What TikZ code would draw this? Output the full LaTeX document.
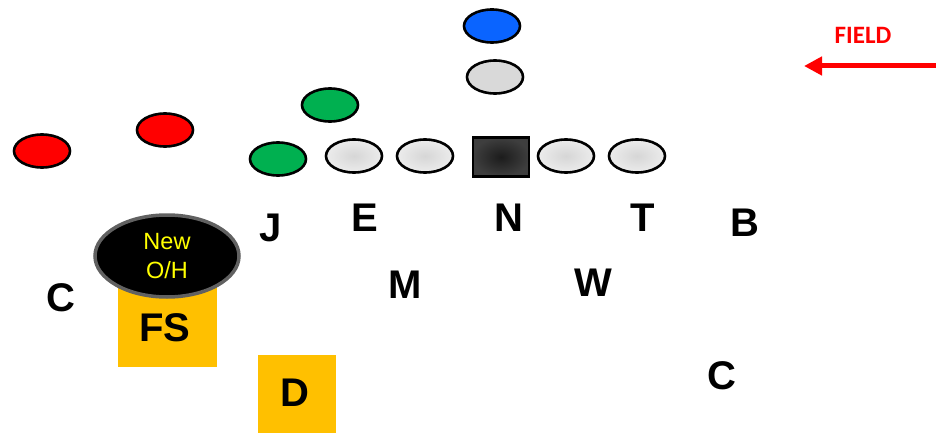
\documentclass[tikz,border=0pt]{standalone}
\usepackage{fontspec}
\setmainfont{Liberation Sans}
\newfontfamily\fieldfont{Carlito}
\usetikzlibrary{shapes.geometric,arrows.meta}
\definecolor{dred}{HTML}{FF0000}
\definecolor{dgreen}{HTML}{00B050}
\definecolor{dblue}{HTML}{0A64FF}
\definecolor{dgold}{HTML}{FFC000}
\definecolor{lgray}{HTML}{D9D9D9}
\definecolor{linein}{HTML}{D6D6D6}
\definecolor{lineout}{HTML}{ECECEC}
\definecolor{ctrin}{HTML}{1C1C1C}
\definecolor{ctrout}{HTML}{3E3E3E}
\definecolor{ohtext}{HTML}{FFFF00}
\begin{document}
\begin{tikzpicture}[x=1pt,y=-1pt,
  oval/.style={ellipse, draw=black, line width=2.6pt, minimum width=56pt, minimum height=33pt, inner sep=0pt},
  lineman/.style={oval, shading=radial, inner color=linein, outer color=lineout},
  poslabel/.style={font=\bfseries\fontsize{40}{40}\selectfont, inner sep=0pt},
  tag/.style={fill=dgold, inner sep=0pt, minimum width=99pt, minimum height=87pt}]
\useasboundingbox (0,0) rectangle (936,433);

% offense
\node[oval, fill=dblue] (qbdeep) at (492,26) {};
\node[oval, fill=lgray] (back) at (495,77) {};
\node[oval, fill=dgreen] (wingup) at (330,105) {};
\node[oval, fill=dgreen] (wing) at (278,159) {};
\node[lineman] (lt) at (354,156) {};
\node[lineman] (lg) at (425,156) {};
\node[draw=black, line width=2.6pt, shading=radial, inner color=ctrin, outer color=ctrout,
      minimum width=56pt, minimum height=39pt, inner sep=0pt] (ctr) at (501,157) {};
\node[lineman] (rg) at (566,156) {};
\node[lineman] (rt) at (637,156) {};
\node[oval, fill=dred] (wrl) at (42,151) {};
\node[oval, fill=dred] (wrs) at (165,130) {};

% defense
\node[poslabel] (J) at (271,228) {J};
\node[poslabel] (E) at (365,218) {E};
\node[poslabel] (N) at (509,218) {N};
\node[poslabel] (T) at (643,218) {T};
\node[poslabel] (B) at (745,223) {B};
\node[poslabel] (M) at (405,285) {M};
\node[poslabel] (W) at (593,283) {W};
\node[poslabel] (CL) at (61,298) {C};
\node[poslabel] (CR) at (722,376) {C};

\node[tag, minimum height=90pt] (fsbox) at (167.5,322) {};
\node[poslabel, anchor=center] (FS) at (165,328) {FS};
\node[tag, minimum width=78pt, minimum height=78pt] (dbox) at (297,394) {};
\node[poslabel] (D) at (295,393) {D};

\node[ellipse, fill=black, draw=black!62, line width=3.5pt, minimum width=144pt, minimum height=82pt,
      inner sep=0pt, align=center, text=ohtext, font=\fontsize{23.5}{29}\selectfont] (oh) at (167,256) {New\\O/H};

% field direction
\node[font=\fieldfont\bfseries\fontsize{25}{25}\selectfont, text=dred, inner sep=0pt] (field) at (863,35) {FIELD};
\coordinate (arrtail) at (936,66);
\coordinate (arrtip) at (804,66);
\draw[dred, line width=5pt, -{Triangle[length=18pt,width=18pt]}] (arrtail) -- (arrtip);
\end{tikzpicture}
\end{document}
